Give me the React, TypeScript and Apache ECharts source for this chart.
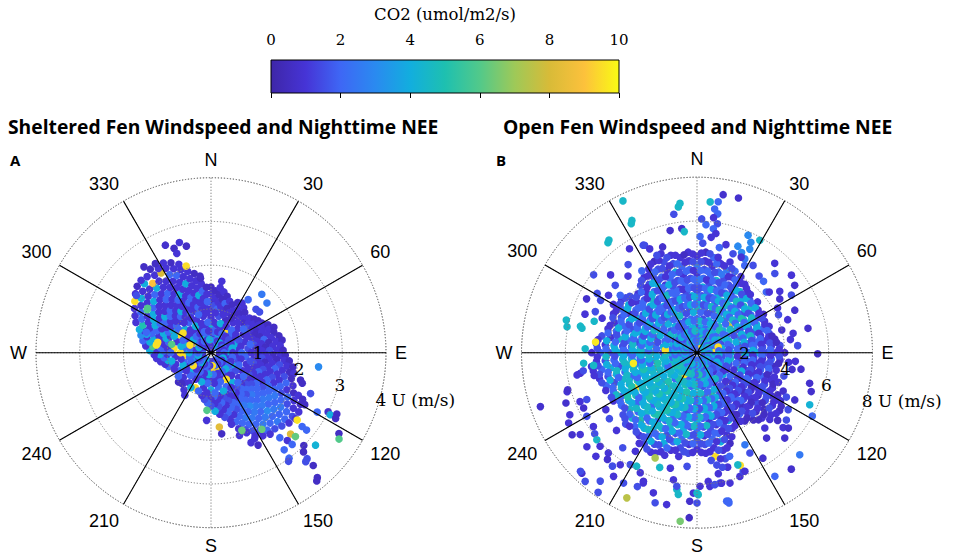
import React, { useEffect, useRef } from "react";
import * as echarts from "echarts";

// ---------- scales / labels ----------
const compassNames: Record<number, string> = { 0: "N", 90: "E", 180: "S", 270: "W" };
const spokeAngles = [30, 60, 90, 120, 150, 210, 240, 270, 300, 330];
const shelteredRings = [1, 2, 3, 4];
const shelteredRingLabels = ["1", "2", "3", "4 U (m/s)"];
const openRings = [2, 4, 6, 8];
const openRingLabels = ["2", "4", "6", "8 U (m/s)"];
const radialLabelDir = 111;
const colorTicks = [0, 10, 2];
const parulaStops = [
  "#3e26a8", "#4634d6", "#3e67f5", "#2a8af0", "#12aede", "#1ec0b0",
  "#52c98a", "#9ec958", "#d8bb38", "#fcc13c", "#f9fb14",
];

// ---------- Sheltered fen: rows [direction, speed, co2, speed, co2, ...] ----------
const shelteredRows = [
  [0, 0.2, 2, 0.4, 1, 0.6, 4, 0.8, 1, 1.0, 1, 1.17, 0.6, 1.34, 1, 1.5, 0.6],
  [4, 1.08, 1.5, 1.25, 1, 1.42, 0.6],
  [8, 1.0, 2, 1.17, 1, 1.34, 0.6, 1.5, 1],
  [12, 0.25, 9.5, 0.45, 2, 0.65, 1, 0.85, 1.5, 1.08, 1, 1.25, 0.6, 1.42, 1],
  [16, 1.0, 1, 1.17, 2, 1.34, 0.6],
  [20, 1.08, 0.6, 1.25, 1],
  [24, 0.2, 1, 0.42, 4, 0.62, 1, 0.82, 0.6, 1.0, 1, 1.2, 0.6],
  [28, 1.08, 1, 1.3, 0.6],
  [32, 1.0, 0.6, 1.17, 1, 1.34, 1],
  [36, 0.25, 2, 0.45, 1, 0.6, 9.5, 0.85, 1, 1.1, 0.6, 1.27, 1],
  [40, 1.0, 1, 1.2, 0.6],
  [44, 1.08, 1],
  [48, 0.2, 4, 0.4, 1, 0.62, 2, 0.82, 1, 1.0, 0.6, 1.18, 1],
  [52, 1.08, 1, 1.25, 0.6],
  [56, 1.0, 1.5, 1.17, 1, 1.3, 0.6],
  [60, 0.25, 1, 0.45, 2, 0.65, 1, 0.85, 0.6, 1.08, 1, 1.25, 1, 1.35, 0.6],
  [64, 1.0, 1, 1.17, 0.6, 1.34, 1, 1.45, 0.6],
  [68, 1.08, 0.6, 1.25, 1, 1.42, 1, 1.55, 0.6],
  [72, 0.2, 2, 0.42, 1, 0.62, 4, 0.82, 1, 1.0, 1, 1.17, 0.6, 1.34, 1, 1.51, 0.6],
  [76, 1.08, 1, 1.25, 2, 1.42, 1, 1.6, 0.6],
  [80, 1.0, 1.5, 1.17, 1, 1.34, 0.6, 1.51, 1, 1.65, 0.6],
  [84, 0.25, 1, 0.45, 2, 0.65, 1, 0.85, 1.5, 1.08, 1, 1.25, 0.6, 1.42, 1, 1.59, 1],
  [88, 1.0, 0.6, 1.17, 1, 1.34, 1.5, 1.51, 1, 1.65, 0.6],
  [92, 1.08, 1, 1.25, 1, 1.42, 0.6, 1.59, 1, 1.7, 0.6],
  [96, 0.2, 1, 0.4, 4, 0.6, 1, 0.8, 2, 1.0, 1, 1.17, 1.5, 1.34, 1, 1.51, 0.6, 1.68, 1, 1.8, 0.6],
  [100, 1.08, 1, 1.25, 0.6, 1.42, 1, 1.59, 1.5, 1.76, 1, 1.9, 0.6],
  [104, 1.0, 1.5, 1.17, 1, 1.34, 1, 1.51, 2, 1.68, 1, 1.85, 0.6, 1.95, 1],
  [108, 0.25, 2, 0.45, 1, 0.65, 1.5, 0.85, 1, 1.08, 1, 1.25, 1.5, 1.42, 1, 1.59, 1, 1.76, 1.5, 1.93, 0.6],
  [112, 1.0, 1, 1.17, 2, 1.34, 1, 1.51, 1.5, 1.68, 1, 1.85, 2, 2.02, 1],
  [116, 1.08, 1, 1.25, 1, 1.42, 2, 1.59, 1, 1.76, 2, 1.93, 1, 2.1, 0.6, 2.22, 1],
  [120, 0.2, 1, 0.42, 2, 0.62, 4, 0.82, 1, 1.0, 1.5, 1.17, 1, 1.34, 1, 1.51, 2, 1.68, 2, 1.85, 1.5, 2.02, 2, 2.19, 1, 2.36, 0.6],
  [124, 1.08, 1, 1.25, 2, 1.42, 1.5, 1.59, 2, 1.76, 2.5, 1.93, 2, 2.1, 1.5, 2.27, 1, 2.42, 1],
  [128, 1.0, 1, 1.17, 1.5, 1.34, 2, 1.51, 2, 1.68, 2.5, 1.85, 2, 2.02, 2.5, 2.19, 2, 2.36, 1.5, 2.45, 1],
  [132, 0.25, 4, 0.45, 1, 0.65, 2, 0.85, 1, 1.08, 1.5, 1.25, 2, 1.42, 2, 1.59, 2.5, 1.76, 2, 1.93, 2.5, 2.1, 2, 2.27, 2, 2.4, 1],
  [136, 1.0, 1, 1.17, 2, 1.34, 2.5, 1.51, 2, 1.68, 2.5, 1.85, 3, 2.02, 2, 2.19, 2.5, 2.33, 1.5],
  [140, 1.08, 2, 1.25, 1.5, 1.42, 2, 1.59, 2.5, 1.76, 2, 1.93, 2.5, 2.1, 2, 2.27, 1.5],
  [144, 0.2, 2, 0.4, 1, 0.62, 1, 0.82, 4, 1.0, 1.5, 1.17, 2, 1.34, 2, 1.51, 3, 1.68, 2.5, 1.85, 2, 2.02, 2.5, 2.19, 2, 2.3, 1],
  [148, 1.08, 1, 1.25, 2, 1.42, 2.5, 1.59, 2, 1.76, 2.5, 1.93, 2, 2.1, 1.5, 2.24, 1],
  [152, 1.0, 2, 1.17, 1, 1.34, 2, 1.51, 2, 1.68, 2.5, 1.85, 2, 2.02, 1.5, 2.15, 1],
  [156, 0.25, 1, 0.45, 9.5, 0.65, 1, 0.85, 2, 1.08, 1, 1.25, 2, 1.42, 1.5, 1.59, 2, 1.76, 2, 1.93, 1.5, 2.0, 1],
  [160, 1.0, 1, 1.17, 1.5, 1.34, 2, 1.51, 1, 1.68, 2, 1.85, 1],
  [164, 1.08, 1.5, 1.25, 1, 1.42, 2, 1.59, 1, 1.7, 1],
  [168, 0.2, 1, 0.4, 8, 0.6, 1, 0.8, 2, 1.0, 1, 1.17, 2, 1.34, 1, 1.51, 1.5],
  [172, 1.08, 1, 1.25, 1.5, 1.42, 1],
  [176, 1.0, 2, 1.17, 1, 1.34, 4],
  [180, 0.25, 2, 0.45, 9.5, 0.65, 1, 0.85, 4, 1.08, 1, 1.22, 1.5],
  [184, 1.0, 1, 1.15, 2],
  [188, 1.08, 1.5],
  [192, 0.2, 1, 0.42, 2, 0.62, 1, 0.82, 1, 1.0, 1],
  [204, 0.25, 1, 0.45, 2, 0.65, 1, 0.88, 9.5],
  [216, 0.2, 4, 0.4, 1, 0.62, 2, 0.85, 1, 1.05, 1],
  [228, 0.25, 1, 0.45, 2, 0.65, 4, 0.85, 1, 1.0, 0.6],
  [240, 0.2, 2, 0.42, 1, 0.62, 1, 0.82, 2],
  [252, 0.25, 1, 0.45, 4, 0.65, 2, 0.85, 1, 1.02, 2],
  [256, 1.08, 1],
  [260, 1.0, 4, 1.17, 1],
  [264, 0.2, 1, 0.4, 2, 0.62, 9.5, 0.82, 1, 1.08, 2, 1.25, 1],
  [268, 1.0, 1, 1.17, 4, 1.3, 1],
  [272, 1.08, 2, 1.25, 1, 1.4, 4],
  [276, 0.25, 4, 0.45, 1, 0.65, 2, 0.85, 9.5, 1.0, 1, 1.17, 2, 1.34, 6, 1.5, 1],
  [280, 1.08, 1, 1.25, 9.5, 1.42, 4, 1.58, 2],
  [284, 1.0, 2, 1.17, 1, 1.34, 4, 1.51, 1, 1.65, 3],
  [288, 0.2, 2, 0.42, 1, 0.62, 4, 0.82, 1, 1.08, 4, 1.25, 1, 1.42, 2, 1.59, 1, 1.72, 4],
  [292, 1.0, 1, 1.17, 4, 1.34, 2, 1.51, 1, 1.68, 5, 1.85, 1],
  [296, 1.08, 2, 1.25, 1, 1.42, 4, 1.59, 1, 1.76, 2, 1.93, 1],
  [300, 0.25, 1, 0.45, 9.5, 0.65, 1, 0.82, 9.5, 1.0, 4, 1.17, 1, 1.34, 2, 1.51, 4, 1.68, 1, 1.85, 2, 2.02, 1],
  [304, 1.08, 1, 1.25, 2, 1.42, 1, 1.59, 4, 1.76, 6, 1.93, 1, 2.1, 9.5],
  [308, 1.0, 2, 1.17, 1, 1.34, 4, 1.51, 1, 1.68, 2, 1.85, 1, 2.02, 4, 2.19, 1],
  [312, 0.2, 1, 0.4, 2, 0.6, 1, 0.8, 4, 1.08, 1, 1.25, 2, 1.42, 1, 1.59, 1, 1.76, 4, 1.93, 1, 2.1, 1, 2.27, 0.6],
  [316, 1.0, 1, 1.17, 1, 1.34, 2, 1.51, 1, 1.68, 1, 1.85, 2, 2.02, 1, 2.19, 4, 2.3, 1],
  [320, 1.08, 2, 1.25, 1, 1.42, 1, 1.59, 2, 1.76, 1, 1.93, 4, 2.07, 9, 2.27, 1],
  [324, 0.25, 2, 0.45, 1, 0.65, 1, 0.85, 2, 1.0, 1, 1.17, 4, 1.34, 1, 1.51, 1, 1.68, 2, 1.85, 1, 2.02, 1, 2.19, 1, 2.36, 0.6],
  [328, 1.08, 1, 1.25, 1, 1.42, 2, 1.59, 1, 1.76, 1, 1.93, 1, 2.15, 8, 2.27, 1, 2.4, 0.6],
  [332, 1.0, 2, 1.17, 1, 1.34, 1, 1.51, 4, 1.68, 1, 1.85, 1, 2.02, 2, 2.19, 1, 2.32, 1],
  [336, 0.2, 1, 0.42, 4, 0.62, 1, 0.82, 1, 1.08, 1, 1.25, 2, 1.42, 1, 1.59, 1, 1.76, 1, 1.93, 2, 2.1, 1, 2.25, 0.6],
  [340, 1.0, 1, 1.17, 1, 1.34, 2, 1.51, 1, 1.68, 4, 1.85, 1, 2.02, 1, 2.15, 1],
  [344, 1.08, 2, 1.25, 1, 1.42, 1, 1.59, 1, 1.76, 1, 1.93, 1, 2.06, 9.5],
  [348, 0.25, 1, 0.45, 2, 0.65, 1, 0.85, 1, 1.0, 1, 1.17, 1, 1.34, 4, 1.51, 1, 1.68, 1, 1.85, 0.6],
  [352, 1.08, 1, 1.25, 1, 1.42, 2, 1.59, 1, 1.72, 0.6],
  [356, 1.0, 1, 1.17, 2, 1.34, 1, 1.5, 0.6],
];

// in-between readings near the sheltered centre
const shelteredInnerFill = [
  [6, 0.3, 1, 0.5, 2, 0.7, 1, 0.92, 1], [18, 0.3, 2, 0.5, 1, 0.7, 4, 0.92, 1],
  [30, 0.3, 1, 0.5, 2, 0.7, 1, 0.92, 0.6], [42, 0.3, 4, 0.5, 1, 0.7, 2, 0.92, 1],
  [54, 0.3, 1, 0.5, 1.5, 0.7, 1, 0.92, 2], [66, 0.3, 2, 0.5, 1, 0.7, 1.5, 0.92, 1],
  [78, 0.3, 1, 0.5, 4, 0.7, 1, 0.92, 2], [90, 0.3, 2, 0.5, 1, 0.7, 2, 0.92, 1],
  [102, 0.3, 1, 0.5, 2, 0.7, 1, 0.92, 1.5], [114, 0.3, 4, 0.5, 1, 0.7, 2, 0.92, 1],
  [126, 0.3, 1, 0.5, 2, 0.7, 1.5, 0.92, 2], [138, 0.3, 2, 0.5, 4, 0.7, 1, 0.92, 2],
  [150, 0.3, 1, 0.5, 2, 0.7, 9.5, 0.92, 1], [162, 0.3, 2, 0.5, 1, 0.7, 2, 0.92, 4],
  [174, 0.3, 9.5, 0.5, 2, 0.7, 1, 0.92, 2], [186, 0.3, 1, 0.5, 4, 0.7, 2, 0.92, 1],
  [198, 0.3, 2, 0.5, 1, 0.7, 4, 0.92, 2], [210, 0.3, 1, 0.5, 2, 0.7, 1, 0.92, 4],
  [222, 0.3, 4, 0.5, 1, 0.7, 2, 0.92, 1], [234, 0.3, 2, 0.5, 9.5, 0.7, 1, 0.92, 2],
  [246, 0.3, 1, 0.5, 2, 0.7, 4, 0.92, 1], [258, 0.3, 4, 0.5, 2, 0.7, 1, 0.92, 4],
  [270, 0.3, 2, 0.5, 4, 0.7, 9.5, 0.92, 2], [282, 0.3, 1, 0.5, 2, 0.7, 4, 0.92, 6],
  [294, 0.3, 4, 0.5, 1, 0.7, 2, 0.92, 4], [306, 0.3, 2, 0.5, 4, 0.7, 1, 0.92, 2],
  [318, 0.3, 1, 0.5, 2, 0.7, 1, 0.92, 1], [330, 0.3, 2, 0.5, 1, 0.7, 4, 0.92, 1],
  [342, 0.3, 1, 0.5, 2, 0.7, 1, 0.92, 2], [354, 0.3, 4, 0.5, 1, 0.7, 2, 0.92, 1],
];

// scattered points [speed, direction, co2]
const shelteredScatter = [
  [0.05, 0, 1],
  [2.49, 322, 0.6], [2.67, 337, 0.8], [2.53, 340.5, 0.6], [2.4, 341, 1], [2.5, 347, 0.6], [2.62, 344, 1],
  [1.77, 351.8, 0.6], [1.65, 8.6, 1], [1.48, 35, 2], [1.77, 41, 2.5], [1.71, 48.4, 2.5], [1.43, 46, 1.5],
  [1.45, 50, 1.5], [1.29, 60.5, 1],
  [2.48, 97.5, 3], [2.14, 107, 0.6], [2.2, 108.5, 0.6], [2.46, 112.3, 1.5], [2.35, 117, 0.6], [2.45, 119, 0.6],
  [2.78, 119.2, 2], [3.0, 116.8, 0.8], [3.07, 117.5, 4], [3.2, 116, 0.6], [3.22, 117.8, 0.6], [3.46, 122.3, 0.6],
  [3.53, 124, 6], [2.5, 128, 9.6], [2.6, 135.6, 8.2], [2.72, 134.8, 6.2], [2.68, 129, 2], [2.81, 129, 2],
  [2.66, 139, 1], [2.5, 141, 2], [3.19, 131.5, 4.2], [3.0, 135, 0.6], [3.1, 137, 0.6], [3.27, 137.8, 1.5],
  [3.3, 139, 1.5], [3.48, 137.8, 0.6], [3.75, 139.6, 0.6], [3.8, 140.5, 0.6], [2.8, 138.5, 2], [2.78, 143, 2],
  [3.0, 143.5, 2], [3.05, 144.5, 1.5], [2.37, 153, 0.6], [2.2, 153, 1], [2.25, 156, 1], [2.0, 161, 1],
  [1.91, 158.3, 6.3], [2.1, 146.4, 6.3], [1.71, 173.6, 8.3], [1.87, 172.5, 0.6], [1.32, 184, 6], [1.55, 183.7, 1],
  [0.97, 224, 0.6], [1.14, 211.7, 1], [1.26, 278, 9.6], [1.53, 286, 3.5], [1.55, 287.5, 2], [1.77, 305, 6],
  [2.15, 307.5, 1.5], [0.78, 305, 9.5], [0.51, 290, 9.5], [1.24, 281, 9.5],
];

// ---------- Open fen: rows [direction, speed, co2, ...] ----------
const openRows = [
  [0, 0.35, 2, 0.75, 4, 1.15, 1.5, 1.55, 2, 1.95, 4.5, 2.4, 2, 2.8, 1.5, 3.2, 2, 3.6, 1, 4.0, 2.5, 4.4, 1],
  [5, 2.6, 1.5, 3.0, 4, 3.4, 2, 3.8, 1.5, 4.2, 1, 4.6, 0.6],
  [10, 0.75, 2, 1.15, 4, 1.55, 1.5, 1.95, 2, 2.4, 4, 2.8, 2, 3.2, 1.5, 3.6, 2, 4.0, 1, 4.4, 2],
  [15, 2.6, 2, 3.0, 1.5, 3.4, 4.5, 3.8, 2, 4.2, 1],
  [20, 0.35, 2, 0.75, 5, 1.15, 2, 1.55, 4, 1.95, 1.5, 2.4, 1.5, 2.8, 4, 3.2, 2, 3.6, 1.5, 4.0, 2.5, 4.4, 1],
  [25, 2.6, 4.5, 3.0, 2, 3.4, 1.5, 3.8, 1, 4.1, 2],
  [30, 0.75, 2, 1.15, 4.5, 1.55, 2, 1.95, 4, 2.4, 2, 2.8, 4, 3.2, 1.5, 3.6, 2, 4.0, 1],
  [35, 2.6, 4, 3.0, 2, 3.4, 4.5, 3.8, 1],
  [40, 0.35, 9.5, 0.75, 2, 1.15, 4, 1.55, 5, 1.95, 2, 2.4, 4.5, 2.8, 2, 3.2, 4, 3.6, 1],
  [45, 2.6, 2, 3.0, 5, 3.4, 1.5],
  [50, 0.75, 4.5, 1.15, 2, 1.55, 4, 1.95, 9.5, 2.4, 4, 2.8, 1.5, 3.2, 4.5, 3.6, 1],
  [55, 2.6, 4.5, 3.0, 2, 3.4, 1],
  [60, 0.35, 4, 0.75, 2, 1.15, 5, 1.55, 2, 1.95, 4, 2.4, 2, 2.8, 4, 3.2, 1.5, 3.5, 0.6],
  [65, 2.6, 1.5, 3.0, 4, 3.4, 1],
  [70, 0.75, 4, 1.15, 1.5, 1.55, 4.5, 1.95, 2, 2.4, 4, 2.8, 1.5, 3.2, 2, 3.5, 1],
  [75, 2.6, 2, 3.0, 1, 3.4, 1.5],
  [80, 0.35, 4.5, 0.75, 2, 1.15, 4, 1.55, 2, 1.95, 1.5, 2.4, 1.5, 2.8, 2, 3.2, 1, 3.6, 0.6],
  [85, 2.6, 2, 3.0, 1.5, 3.4, 1, 3.8, 1.5],
  [90, 0.75, 9.5, 1.15, 2, 1.55, 4, 1.95, 2, 2.4, 1, 2.8, 4, 3.2, 1.5, 3.6, 1, 4.0, 0.6],
  [95, 2.6, 1.5, 3.0, 1, 3.4, 2, 3.8, 1],
  [100, 0.35, 4, 0.75, 2, 1.15, 1.5, 1.55, 4.5, 1.95, 1, 2.4, 2, 2.8, 1, 3.2, 1.5, 3.6, 0.6],
  [105, 2.6, 1, 3.0, 2, 3.4, 1],
  [110, 0.75, 4, 1.15, 2, 1.55, 1.5, 1.95, 4, 2.4, 1.5, 2.8, 1, 3.2, 2, 3.6, 1],
  [115, 2.6, 2, 3.0, 1, 3.4, 1.5, 3.8, 1],
  [120, 0.35, 1.5, 0.75, 2, 1.15, 4, 1.55, 1, 1.95, 2, 2.4, 1, 2.8, 1.5, 3.2, 1, 3.6, 2, 4.0, 1, 4.4, 0.6],
  [125, 2.6, 1.5, 3.0, 1, 3.4, 0.6, 3.8, 1.5, 4.2, 1, 4.6, 0.6],
  [130, 0.75, 1.5, 1.15, 2, 1.55, 4, 1.95, 1, 2.4, 1.5, 2.8, 0.6, 3.2, 1, 3.6, 1.5, 4.0, 0.6, 4.4, 1, 4.8, 0.6],
  [135, 2.6, 1, 3.0, 1.5, 3.4, 1, 3.8, 0.6, 4.2, 1],
  [140, 0.35, 4, 0.75, 2, 1.15, 1, 1.55, 2, 1.95, 1.5, 2.4, 1, 2.8, 2, 3.2, 0.6, 3.6, 1, 4.0, 0.6],
  [145, 2.6, 1.5, 3.0, 1, 3.4, 2, 3.8, 0.6],
  [150, 0.75, 4.5, 1.15, 2, 1.55, 1, 1.95, 2, 2.4, 1, 2.8, 1.5, 3.2, 1, 3.6, 0.6],
  [155, 2.6, 2, 3.0, 1, 3.4, 4, 3.8, 1],
  [160, 0.35, 2, 0.75, 1.5, 1.15, 4, 1.55, 2, 1.95, 5, 2.4, 4.5, 2.8, 2, 3.2, 1, 3.6, 1.5, 4.0, 1, 4.4, 0.6],
  [165, 2.6, 2, 3.0, 1.5, 3.4, 1, 3.8, 2, 4.2, 4, 4.6, 1, 5.0, 1.5, 5.4, 1],
  [170, 0.75, 2, 1.15, 4.5, 1.55, 1.5, 1.95, 2, 2.4, 2, 2.8, 4, 3.2, 1, 3.6, 1.5, 4.0, 2, 4.4, 1, 4.8, 9.5, 5.2, 1.5, 5.6, 1],
  [175, 2.6, 4.5, 3.0, 2, 3.4, 1.5, 3.8, 1, 4.2, 1.5, 4.6, 1],
  [180, 0.35, 2, 0.75, 4, 1.15, 2, 1.55, 4.5, 1.95, 1.5, 2.4, 1.5, 2.8, 2, 3.2, 4, 3.6, 2, 4.0, 1.5, 4.4, 1],
  [185, 2.6, 2, 3.0, 4.5, 3.4, 1.5, 3.8, 2, 4.2, 1, 4.6, 1.5],
  [190, 0.75, 2, 1.15, 4, 1.55, 2, 1.95, 4.5, 2.4, 4, 2.8, 1.5, 3.2, 2, 3.6, 4, 4.0, 2, 4.4, 1.5, 4.8, 1],
  [195, 2.6, 4, 3.0, 2, 3.4, 4.5, 3.8, 1.5, 4.2, 2, 4.6, 1],
  [200, 0.35, 2, 0.75, 4.5, 1.15, 2, 1.55, 5, 1.95, 4, 2.4, 4.5, 2.8, 4, 3.2, 2, 3.6, 4.5, 4.0, 1.5, 4.4, 4, 4.8, 1],
  [205, 2.6, 5, 3.0, 4, 3.4, 2, 3.8, 4.5, 4.2, 2, 4.6, 1.5, 5.0, 1],
  [210, 0.75, 2, 1.15, 9.5, 1.55, 4, 1.95, 4.5, 2.4, 4, 2.8, 5, 3.2, 4.5, 3.6, 2, 4.0, 4, 4.4, 2, 4.8, 1.5],
  [215, 2.6, 4.5, 3.0, 4, 3.4, 5, 3.8, 2, 4.2, 4, 4.6, 1],
  [220, 0.35, 2, 0.75, 4, 1.15, 4.5, 1.55, 2, 1.95, 5, 2.4, 4.5, 2.8, 4, 3.2, 2, 3.6, 4.5, 4.0, 5, 4.4, 2],
  [225, 2.6, 4, 3.0, 4.5, 3.4, 4, 3.8, 2, 4.2, 4.5, 4.6, 1.5],
  [230, 0.75, 2, 1.15, 4, 1.55, 4.5, 1.95, 4, 2.4, 5, 2.8, 4.5, 3.2, 4, 3.6, 2, 4.0, 4.5, 4.4, 1.5],
  [235, 2.6, 4.5, 3.0, 4, 3.4, 5, 3.8, 4, 4.2, 2],
  [240, 0.35, 2, 0.75, 4.5, 1.15, 5, 1.55, 4, 1.95, 4.5, 2.4, 4, 2.8, 4.5, 3.2, 9.5, 3.6, 4, 4.0, 2, 4.4, 1],
  [245, 2.6, 4, 3.0, 5, 3.4, 4, 3.8, 4.5, 4.2, 2],
  [250, 0.75, 2, 1.15, 4.5, 1.55, 4, 1.95, 5, 2.4, 4.5, 2.8, 4, 3.2, 2, 3.6, 4.5, 4.0, 1.5, 4.4, 2],
  [255, 2.6, 4, 3.0, 4.5, 3.4, 2, 3.8, 4, 4.2, 1.5, 4.6, 1],
  [260, 0.35, 2, 0.75, 4, 1.15, 2, 1.55, 4.5, 1.95, 4, 2.4, 4, 2.8, 2, 3.2, 4.5, 3.6, 1.5, 4.0, 4, 4.4, 2, 4.8, 1],
  [265, 2.6, 2, 3.0, 4, 3.4, 4.5, 3.8, 2, 4.2, 1.5, 4.6, 1],
  [270, 0.75, 2, 1.15, 4, 1.55, 1.5, 1.95, 4.5, 2.4, 2, 2.8, 4, 3.2, 2, 3.6, 4, 4.0, 1.5, 4.4, 2, 4.8, 1],
  [275, 2.6, 4, 3.0, 2, 3.4, 1.5, 3.8, 4, 4.2, 1, 4.6, 1.5],
  [280, 0.35, 2, 0.75, 4.5, 1.15, 2, 1.55, 4, 1.95, 2, 2.4, 4, 2.8, 1.5, 3.2, 2, 3.6, 4.5, 4.0, 1, 4.4, 1.5],
  [285, 2.6, 2, 3.0, 4, 3.4, 1.5, 3.8, 2, 4.2, 1],
  [290, 0.75, 2, 1.15, 4, 1.55, 2, 1.95, 1.5, 2.4, 2, 2.8, 4, 3.2, 1.5, 3.6, 2, 4.0, 1],
  [295, 2.6, 4, 3.0, 2, 3.4, 4, 3.8, 1.5, 4.2, 1],
  [300, 0.35, 2, 0.75, 4, 1.15, 1.5, 1.55, 2, 1.95, 4, 2.4, 1.5, 2.8, 2, 3.2, 4, 3.6, 1, 4.0, 2, 4.4, 1],
  [305, 2.6, 2, 3.0, 1.5, 3.4, 2, 3.8, 4, 4.2, 1],
  [310, 0.75, 2, 1.15, 4.5, 1.55, 1.5, 1.95, 2, 2.4, 4, 2.8, 1.5, 3.2, 2, 3.6, 1, 4.0, 1.5],
  [315, 2.6, 2, 3.0, 4, 3.4, 1.5, 3.8, 1],
  [320, 0.35, 2, 0.75, 1.5, 1.15, 2, 1.55, 4, 1.95, 2, 2.4, 1.5, 2.8, 2, 3.2, 4.5, 3.6, 1, 4.0, 1.5],
  [325, 2.6, 4, 3.0, 1.5, 3.4, 2, 3.8, 1.5, 4.2, 1],
  [330, 0.75, 2, 1.15, 1.5, 1.55, 2, 1.95, 4, 2.4, 2, 2.8, 1.5, 3.2, 2, 3.6, 4, 4.0, 1.5, 4.4, 1],
  [335, 2.6, 1.5, 3.0, 2, 3.4, 1, 3.8, 2, 4.2, 1.5, 4.6, 0.6],
  [340, 0.35, 2, 0.75, 4, 1.15, 2, 1.55, 1.5, 1.95, 2, 2.4, 4, 2.8, 2, 3.2, 1.5, 3.6, 2, 4.0, 1, 4.4, 1.5, 4.8, 1],
  [345, 2.6, 2, 3.0, 1, 3.4, 1.5, 3.8, 4, 4.2, 1.5, 4.6, 1],
  [350, 0.75, 2, 1.15, 4, 1.55, 2, 1.95, 1.5, 2.4, 2, 2.8, 1.5, 3.2, 2, 3.6, 1, 4.0, 2, 4.4, 1],
  [355, 2.6, 4, 3.0, 2, 3.4, 1.5, 3.8, 2, 4.2, 1, 4.6, 1],
];

// in-between readings of the open fen core (same layout)
const openInnerFill = [
  [5, 0.55, 4, 1.0, 2, 1.45, 4.5, 1.85, 2], [15, 0.55, 2, 1.0, 4, 1.45, 2, 1.85, 1.5],
  [25, 0.55, 5, 1.0, 2, 1.45, 4, 1.85, 2], [35, 0.55, 2, 1.0, 4.5, 1.45, 2, 1.85, 4],
  [45, 0.55, 4, 1.0, 2, 1.45, 5, 1.85, 2], [55, 0.55, 2, 1.0, 4, 1.45, 2, 1.85, 4.5],
  [65, 0.55, 4.5, 1.0, 2, 1.45, 4, 1.85, 1.5], [75, 0.55, 2, 1.0, 9.5, 1.45, 2, 1.85, 4],
  [85, 0.55, 4, 1.0, 2, 1.45, 1.5, 1.85, 2], [95, 0.55, 2, 1.0, 4, 1.45, 2, 1.85, 1],
  [105, 0.55, 4.5, 1.0, 1.5, 1.45, 4, 1.85, 2], [115, 0.55, 2, 1.0, 4, 1.45, 1.5, 1.85, 1],
  [125, 0.55, 4, 1.0, 2, 1.45, 1, 1.85, 2], [135, 0.55, 2, 1.0, 1.5, 1.45, 2, 1.85, 1],
  [145, 0.55, 4, 1.0, 2, 1.45, 4.5, 1.85, 1.5], [155, 0.55, 2, 1.0, 4, 1.45, 2, 1.85, 4],
  [165, 0.55, 4.5, 1.0, 2, 1.45, 4, 1.85, 2], [175, 0.55, 2, 1.0, 5, 1.45, 2, 1.85, 4.5],
  [185, 0.55, 4, 1.0, 2, 1.45, 4.5, 1.85, 4], [195, 0.55, 2, 1.0, 4.5, 1.45, 4, 1.85, 5],
  [205, 0.55, 4, 1.0, 5, 1.45, 4.5, 1.85, 4], [215, 0.55, 4.5, 1.0, 4, 1.45, 5, 1.85, 4.5],
  [225, 0.55, 2, 1.0, 4.5, 1.45, 4, 1.85, 5], [235, 0.55, 4, 1.0, 5, 1.45, 4.5, 1.85, 4],
  [245, 0.55, 4.5, 1.0, 4, 1.45, 2, 1.85, 4.5], [255, 0.55, 2, 1.0, 4.5, 1.45, 4, 1.85, 5],
  [265, 0.55, 4, 1.0, 2, 1.45, 4.5, 1.85, 4], [275, 0.55, 2, 1.0, 4, 1.45, 9.5, 1.85, 2],
  [285, 0.55, 4.5, 1.0, 2, 1.45, 4, 1.85, 1.5], [295, 0.55, 2, 1.0, 4, 1.45, 2, 1.85, 4],
  [305, 0.55, 4, 1.0, 1.5, 1.45, 4.5, 1.85, 2], [315, 0.55, 2, 1.0, 4, 1.45, 2, 1.85, 4],
  [325, 0.55, 4.5, 1.0, 2, 1.45, 1.5, 1.85, 2], [335, 0.55, 2, 1.0, 4, 1.45, 2, 1.85, 4.5],
  [345, 0.55, 4, 1.0, 2, 1.45, 4, 1.85, 1.5], [355, 0.55, 2, 1.0, 4.5, 1.45, 2, 1.85, 4],
];

const openOuterFill = [
  [2.5, 2.2, 4, 2.55, 2, 2.95, 1.5, 3.35, 2.5, 3.75, 2, 4.15, 1.5, 4.55, 1],
  [7.5, 2.2, 1.5, 2.55, 4, 2.95, 2, 3.35, 1, 3.75, 2, 4.15, 1, 4.55, 1.5],
  [12.5, 2.2, 2, 2.55, 1.5, 2.95, 4, 3.35, 2, 3.75, 1.5, 4.15, 2, 4.45, 1],
  [17.5, 2.2, 4.5, 2.55, 2, 2.95, 2, 3.35, 1.5, 3.75, 2.5, 4.15, 1],
  [22.5, 2.2, 2, 2.55, 4, 2.95, 1.5, 3.35, 2, 3.75, 1, 4.15, 1.5],
  [27.5, 2.2, 5, 2.55, 2, 2.95, 4, 3.35, 1.5, 3.75, 2],
  [32.5, 2.2, 2, 2.55, 4.5, 2.95, 2, 3.35, 4, 3.75, 1],
  [37.5, 2.2, 4, 2.55, 2, 2.95, 4.5, 3.35, 1.5, 3.7, 1],
  [42.5, 2.2, 2, 2.55, 4, 2.95, 1.5, 3.35, 4, 3.6, 1],
  [47.5, 2.2, 4.5, 2.55, 2, 2.95, 4, 3.35, 2],
  [52.5, 2.2, 2, 2.55, 5, 2.95, 1.5, 3.35, 4],
  [57.5, 2.2, 4, 2.55, 2, 2.95, 4.5, 3.35, 1],
  [62.5, 2.2, 1.5, 2.55, 4, 2.95, 2, 3.35, 1.5],
  [67.5, 2.2, 4, 2.55, 1.5, 2.95, 4, 3.35, 1],
  [72.5, 2.2, 2, 2.55, 4.5, 2.95, 1, 3.35, 2],
  [77.5, 2.2, 4, 2.55, 1.5, 2.95, 2, 3.35, 1, 3.5, 0.6],
  [82.5, 2.2, 1.5, 2.55, 2, 2.95, 1, 3.35, 1.5, 3.65, 0.6],
  [87.5, 2.2, 2, 2.55, 4, 2.95, 1.5, 3.35, 2, 3.75, 1],
  [92.5, 2.2, 4, 2.55, 1, 2.95, 2, 3.35, 1, 3.75, 1.5],
  [97.5, 2.2, 1.5, 2.55, 2, 2.95, 1, 3.35, 1.5, 3.75, 0.6],
  [102.5, 2.2, 2, 2.55, 1, 2.95, 1.5, 3.35, 2, 3.7, 1],
  [107.5, 2.2, 1, 2.55, 1.5, 2.95, 1, 3.35, 0.6, 3.7, 1],
  [112.5, 2.2, 4, 2.55, 1, 2.95, 2, 3.35, 1, 3.75, 0.6],
  [117.5, 2.2, 1.5, 2.55, 2, 2.95, 1, 3.35, 1.5, 3.75, 1, 4.15, 0.6],
  [122.5, 2.2, 1, 2.55, 1.5, 2.95, 0.6, 3.35, 1, 3.75, 1.5, 4.15, 1, 4.55, 0.6],
  [127.5, 2.2, 2, 2.55, 1, 2.95, 1.5, 3.35, 1, 3.75, 0.6, 4.15, 1.5, 4.55, 1],
  [132.5, 2.2, 1, 2.55, 1.5, 2.95, 1, 3.35, 0.6, 3.75, 1, 4.15, 0.6, 4.5, 1],
  [137.5, 2.2, 1.5, 2.55, 1, 2.95, 2, 3.35, 1, 3.75, 1.5, 4.15, 0.6],
  [142.5, 2.2, 1, 2.55, 2, 2.95, 1, 3.35, 1.5, 3.75, 0.6],
  [147.5, 2.2, 2, 2.55, 1, 2.95, 1.5, 3.35, 0.6, 3.7, 1],
  [152.5, 2.2, 1.5, 2.55, 2, 2.95, 1, 3.35, 1.5, 3.75, 1],
  [157.5, 2.2, 4, 2.55, 1.5, 2.95, 2, 3.35, 1, 3.75, 1.5, 4.15, 1],
  [162.5, 2.2, 2, 2.55, 4, 2.95, 1.5, 3.35, 2, 3.75, 1, 4.15, 1.5, 4.55, 1, 4.95, 2],
  [167.5, 2.2, 4.5, 2.55, 2, 2.95, 4, 3.35, 1.5, 3.75, 2, 4.15, 1, 4.55, 1.5, 4.95, 1, 5.35, 1.5],
  [172.5, 2.2, 2, 2.55, 4, 2.95, 2, 3.35, 4.5, 3.75, 1.5, 4.15, 2, 4.55, 1, 4.95, 1.5],
  [177.5, 2.2, 4, 2.55, 1.5, 2.95, 4.5, 3.35, 2, 3.75, 4, 4.15, 1.5, 4.55, 1],
  [182.5, 2.2, 2, 2.55, 4, 2.95, 2, 3.35, 4.5, 3.75, 1.5, 4.15, 2, 4.55, 1],
  [187.5, 2.2, 4.5, 2.55, 2, 2.95, 4, 3.35, 2, 3.75, 4.5, 4.15, 1.5, 4.55, 1.5],
  [192.5, 2.2, 4, 2.55, 4.5, 2.95, 2, 3.35, 4, 3.75, 2, 4.15, 4, 4.55, 1],
  [197.5, 2.2, 5, 2.55, 4, 2.95, 4.5, 3.35, 2, 3.75, 4, 4.15, 1.5, 4.55, 2, 4.9, 1],
  [202.5, 2.2, 4, 2.55, 5, 2.95, 4, 3.35, 4.5, 3.75, 2, 4.15, 4, 4.55, 1.5, 4.95, 1],
  [207.5, 2.2, 4.5, 2.55, 4, 2.95, 5, 3.35, 4, 3.75, 4.5, 4.15, 2, 4.55, 4, 4.95, 1.5],
  [212.5, 2.2, 4, 2.55, 4.5, 2.95, 4, 3.35, 5, 3.75, 4, 4.15, 4.5, 4.55, 1.5, 4.9, 1],
  [217.5, 2.2, 5, 2.55, 4, 2.95, 4.5, 3.35, 4, 3.75, 2, 4.15, 4, 4.55, 1.5],
  [222.5, 2.2, 4, 2.55, 5, 2.95, 4, 3.35, 4.5, 3.75, 4, 4.15, 2, 4.55, 1],
  [227.5, 2.2, 4.5, 2.55, 4, 2.95, 5, 3.35, 4, 3.75, 4.5, 4.15, 2, 4.45, 1.5],
  [232.5, 2.2, 4, 2.55, 4.5, 2.95, 4, 3.35, 2, 3.75, 4, 4.15, 1.5],
  [237.5, 2.2, 5, 2.55, 4, 2.95, 4.5, 3.35, 4, 3.75, 5, 4.15, 2],
  [242.5, 2.2, 4, 2.55, 4.5, 2.95, 4, 3.35, 5, 3.75, 4, 4.15, 4.5, 4.4, 1.5],
  [247.5, 2.2, 4.5, 2.55, 4, 2.95, 2, 3.35, 4.5, 3.75, 4, 4.15, 2, 4.5, 1],
  [252.5, 2.2, 4, 2.55, 5, 2.95, 4, 3.35, 4.5, 3.75, 2, 4.15, 4, 4.55, 1.5],
  [257.5, 2.2, 2, 2.55, 4, 2.95, 4.5, 3.35, 4, 3.75, 4.5, 4.15, 2, 4.55, 1.5, 4.8, 1],
  [262.5, 2.2, 4, 2.55, 2, 2.95, 4, 3.35, 4.5, 3.75, 2, 4.15, 4, 4.55, 1.5, 4.85, 1],
  [267.5, 2.2, 4.5, 2.55, 4, 2.95, 2, 3.35, 4, 3.75, 1.5, 4.15, 4.5, 4.55, 1],
  [272.5, 2.2, 2, 2.55, 4.5, 2.95, 4, 3.35, 2, 3.75, 4, 4.15, 2, 4.55, 1.5],
  [277.5, 2.2, 4, 2.55, 2, 2.95, 4.5, 3.35, 1.5, 3.75, 2, 4.15, 4, 4.55, 1],
  [282.5, 2.2, 2, 2.55, 4, 2.95, 2, 3.35, 4, 3.75, 1.5, 4.15, 2],
  [287.5, 2.2, 4, 2.55, 1.5, 2.95, 4, 3.35, 2, 3.75, 4, 4.15, 1],
  [292.5, 2.2, 2, 2.55, 4, 2.95, 2, 3.35, 1.5, 3.75, 2, 4.15, 1.5],
  [297.5, 2.2, 4.5, 2.55, 2, 2.95, 1.5, 3.35, 4, 3.75, 2, 4.15, 1],
  [302.5, 2.2, 2, 2.55, 4, 2.95, 2, 3.35, 1.5, 3.75, 4, 4.15, 1.5],
  [307.5, 2.2, 4, 2.55, 1.5, 2.95, 4, 3.35, 2, 3.75, 1, 4.1, 1.5],
  [312.5, 2.2, 2, 2.55, 4, 2.95, 1.5, 3.35, 2, 3.75, 1.5],
  [317.5, 2.2, 1.5, 2.55, 2, 2.95, 4, 3.35, 1, 3.75, 2],
  [322.5, 2.2, 4, 2.55, 2, 2.95, 1.5, 3.35, 4, 3.75, 1, 4.15, 1.5],
  [327.5, 2.2, 2, 2.55, 1.5, 2.95, 2, 3.35, 1.5, 3.75, 4, 4.15, 1],
  [332.5, 2.2, 4, 2.55, 2, 2.95, 4.5, 3.35, 2, 3.75, 1.5, 4.15, 2, 4.55, 1],
  [337.5, 2.2, 2, 2.55, 1.5, 2.95, 2, 3.35, 4, 3.75, 1, 4.15, 1.5, 4.55, 1],
  [342.5, 2.2, 1.5, 2.55, 4, 2.95, 2, 3.35, 1.5, 3.75, 2, 4.15, 1, 4.55, 1.5],
  [347.5, 2.2, 2, 2.55, 2, 2.95, 1, 3.35, 2, 3.75, 1.5, 4.15, 2, 4.55, 1],
  [352.5, 2.2, 4, 2.55, 1.5, 2.95, 2, 3.35, 1.5, 3.75, 2, 4.15, 1, 4.5, 0.6],
  [357.5, 2.2, 2, 2.55, 4, 2.95, 1.5, 3.35, 2, 3.75, 1, 4.15, 1.5, 4.5, 1],
];

const openScatter = [
  [0.05, 0, 2],
  [7.7, 334, 4.5], [6.7, 352.7, 4.5], [6.85, 353.5, 4.5], [6.72, 333.8, 4.5], [6.6, 333, 4.5], [6.52, 322, 4.5],
  [6.45, 321, 4.5], [5.9, 307, 1.5], [6.14, 284, 4.5], [5.36, 282, 4.5], [5.6, 296, 0.8], [5.29, 300.7, 1.5],
  [5.7, 347.6, 0.8], [5.7, 353, 0.8], [5.48, 333.4, 1.5],
  [7.3, 9.4, 0.8], [7.3, 15, 0.8], [6.9, 5, 4.5], [6.95, 8, 2], [6.6, 7, 2], [6.4, 8.5, 2], [6.2, 7, 1],
  [5.95, 9, 1.5], [5.7, 7.5, 2], [5.5, 9, 1], [5.3, 1.5, 2], [5.3, 7, 1], [5.84, 23.5, 3], [5.87, 29.2, 4.5],
  [5.6, 26, 3], [5.4, 41, 1], [5.57, 50.6, 1], [5.41, 55.4, 0.8], [5.18, 77.6, 0.8], [4.47, 78.6, 1], [5.5, 90.5, 0.6],
  [5.06, 44.5, 1.5], [4.7, 53.4, 1], [5.04, 58.6, 1.5], [4.86, 66.5, 0.8], [4.2, 61, 1], [4.2, 48.8, 2],
  [6.1, 2, 1.5], [5.85, 4, 2], [5.0, 3, 1.5], [4.9, 12, 2], [5.1, 15, 1], [4.8, 20, 1.5], [5.2, 21, 3],
  [5.0, 24, 3], [4.8, 27, 2.5], [5.3, 27, 3],
  [6.4, 350.5, 1.5], [5.55, 354, 4.5], [5.07, 342, 0.8], [5.45, 334, 1.5], [5.2, 335.5, 1], [4.8, 337.6, 1.5],
  [5.65, 327, 1], [4.83, 309.5, 1.5], [4.37, 306.8, 2], [4.81, 303, 1], [5.0, 298.5, 1.5], [5.1, 272, 4.5],
  [4.65, 276, 9.7],
  [7.55, 251, 0.8], [6.18, 253.3, 1], [6.4, 249, 0.8], [6.45, 244, 1], [7.6, 223.7, 0.8], [7.77, 221, 1.5],
  [7.8, 215.3, 1.5], [7.35, 205.8, 7.5], [5.16, 201.7, 7.2], [7.1, 195.6, 1.5], [7.72, 185.7, 6.5],
  [7.53, 182.7, 0.6], [6.47, 179.5, 4.5], [6.9, 168.7, 2], [5.4, 260, 0.8], [6.13, 254, 0.8], [5.19, 264.7, 4.5],
  [5.45, 282.8, 4.5], [2.94, 260.5, 9.7],
  [5.75, 244, 0.8], [5.8, 240, 1.5], [5.8, 234.5, 1], [5.95, 231.6, 1.5], [6.05, 229, 4.5], [6.14, 226, 1],
  [6.1, 221.5, 1], [6.35, 220, 0.8], [6.45, 216.7, 1.5], [7.33, 217, 1.5], [6.19, 214.4, 1], [5.94, 210.8, 1.5],
  [5.86, 208, 4.5], [6.05, 205.3, 1], [6.35, 202.6, 0.8], [6.68, 204, 1.5], [6.3, 188.4, 4.5], [6.52, 187.5, 4.5],
  [6.4, 181.5, 1], [6.85, 180, 1.5],
  [5.56, 259.5, 1], [5.25, 261, 1.5], [4.75, 263, 4.5], [6.04, 281.3, 4.5], [5.78, 247.3, 1], [5.46, 247, 1.5],
  [6.67, 241.3, 1], [6.81, 236.7, 0.8], [6.5, 235, 1], [6.6, 229.5, 1], [6.6, 224.3, 1], [7.58, 224.5, 1.5],
  [6.8, 214, 1], [6.82, 209.4, 1.5], [6.42, 202.4, 1], [6.69, 197.3, 1], [5.89, 190.5, 1], [6.16, 188.6, 1.5],
  [7.06, 191.3, 1], [6.78, 182.8, 0.8], [6.09, 178.7, 1], [6.12, 174.5, 1], [6.03, 170, 1.5], [7.0, 168, 2],
  [5.97, 160.9, 1], [5.8, 158.7, 1.5], [5.67, 148, 0.8], [5.17, 152.2, 1.5], [6.66, 147.8, 2], [6.83, 141, 0.8],
  [6.6, 134.8, 2.5], [5.5, 159, 9.5], [5.2, 131, 1], [5.1, 127, 1.5], [5.4, 129.5, 0.8], [5.66, 114.8, 4.2],
  [6.0, 118.8, 2], [5.5, 108.8, 0.8], [5.32, 105.2, 0.8], [4.3, 114, 0.8], [4.55, 116.4, 1.5], [4.95, 115.8, 0.8],
  [5.58, 134.2, 0.8], [4.62, 138, 1], [5.02, 140.8, 0.8], [4.73, 152.5, 2.5], [5.83, 158, 1], [6.92, 168, 2],
  [6.4, 180, 4.5], [5.89, 175, 1], [6.07, 172.3, 1.5], [6.05, 169.3, 1], [6.13, 165.8, 1], [5.44, 160, 4.5],
  [4.5, 39, 1.5], [4.45, 43, 2], [4.73, 32.7, 1.5], [4.53, 28.7, 2], [4.8, 24.8, 1],
  [4.3, 50, 1], [4.5, 57, 0.8], [4.1, 65, 1.5], [4.4, 70, 1], [4.0, 75, 0.8], [4.3, 82, 1], [4.6, 86, 1.5],
  [4.2, 96, 1], [4.4, 100, 0.8], [4.1, 105, 1.5], [3.95, 110, 1], [4.5, 95, 1], [4.8, 99, 0.8], [4.3, 120, 1],
  [4.9, 122, 1.5], [4.6, 290, 1], [5.0, 292, 1.5], [4.7, 318, 1], [5.1, 322, 1.5], [4.5, 326, 2], [5.3, 312, 1],
  [4.9, 287, 4.5], [5.4, 289, 1], [5.2, 185, 1.5], [5.4, 193, 1], [5.5, 198, 4.5], [5.3, 212, 1], [5.5, 218, 1.5],
  [5.1, 226, 1], [5.0, 233, 1.5], [4.9, 238, 1],
];

// ---------- helpers ----------
function toPoints(rowSets: number[][][], extra: number[][]) {
  const pts: number[][] = [];
  for (const rows of rowSets) {
    for (const row of rows) {
      const dir = row[0];
      for (let i = 1; i + 1 < row.length; i += 2) pts.push([row[i], dir, row[i + 1]]);
    }
  }
  for (const p of extra) pts.push(p);
  return pts;
}

function spokePath(maxR: number) {
  const d: number[][] = [];
  for (const a of spokeAngles) {
    d.push([0, a]);
    d.push([maxR, a]);
  }
  return d;
}

const dotted = { color: "#7c7c7c", width: 1, type: [1.2, 1.8] as any };

function angleAxis(polarIndex: number) {
  return {
    polarIndex,
    type: "value",
    min: 0,
    max: 360,
    interval: 30,
    startAngle: 90,
    clockwise: true,
    z: 10,
    axisLine: { show: true, lineStyle: dotted },
    axisTick: { show: false },
    axisLabel: {
      show: true,
      margin: 9,
      color: "#000",
      fontFamily: '"Liberation Sans", Arial, sans-serif',
      fontSize: 18,
      formatter: (v: number) => (v >= 360 ? "" : compassNames[v] ?? String(v)),
    },
    splitLine: { show: true, lineStyle: dotted },
  };
}

function radiusAxis(polarIndex: number, rings: number[]) {
  return {
    polarIndex,
    type: "value",
    min: 0,
    max: rings[rings.length - 1],
    interval: rings[0],
    z: 10,
    axisLine: { show: false },
    axisTick: { show: false },
    axisLabel: { show: false },
    splitLine: { show: true, lineStyle: dotted },
  };
}

export default function App() {
  const ref = useRef<HTMLDivElement>(null);

  useEffect(() => {
    const el = ref.current;
    if (!el) return;
    const chart = echarts.init(el, null, { renderer: "svg" });

    const gradient = new echarts.graphic.LinearGradient(
      0, 0, 1, 0,
      parulaStops.map((c, i) => ({ offset: i / (parulaStops.length - 1), color: c }))
    );

    const scatterBase = {
      type: "scatter",
      coordinateSystem: "polar",
      symbol: "circle",
      symbolSize: 7.6,
      itemStyle: { opacity: 1 },
      silent: true,
      progressive: 0,
      z: 2,
    };
    const spokeBase = {
      type: "line",
      coordinateSystem: "polar",
      showSymbol: false,
      symbol: "none",
      silent: true,
      lineStyle: { color: "#000", width: 1.1 },
      z: 12,
    };

    chart.setOption({
      animation: false,
      polar: [
        { center: [211, 352.7], radius: 175 },
        { center: [697, 352.7], radius: 175.5 },
      ],
      angleAxis: [angleAxis(0), angleAxis(1)],
      radiusAxis: [radiusAxis(0, shelteredRings), radiusAxis(1, openRings)],
      grid: [
        {
          left: 271, top: 60, width: 348, height: 33, show: true,
          backgroundColor: gradient, borderColor: "#000", borderWidth: 1,
        },
      ],
      xAxis: [
        {
          gridIndex: 0, type: "value", position: "top",
          min: colorTicks[0], max: colorTicks[1], interval: colorTicks[2],
          axisLine: { show: false },
          axisTick: { show: true, inside: true, length: 5, lineStyle: { color: "#000" } },
          axisLabel: { margin: 13, color: "#000", fontFamily: '"DejaVu Serif", serif', fontSize: 15 },
          splitLine: { show: false },
        },
      ],
      yAxis: [{ gridIndex: 0, type: "value", min: 0, max: 1, show: false }],
      visualMap: {
        type: "continuous",
        show: false,
        min: 0,
        max: 10,
        dimension: 2,
        seriesIndex: [0, 1],
        inRange: { color: parulaStops },
      },
      series: [
        { ...scatterBase, polarIndex: 0, data: toPoints([shelteredRows, shelteredInnerFill], shelteredScatter) },
        { ...scatterBase, polarIndex: 1, data: toPoints([openRows, openInnerFill, openOuterFill], openScatter) },
        { ...spokeBase, polarIndex: 0, data: spokePath(shelteredRings[shelteredRings.length - 1]) },
        { ...spokeBase, polarIndex: 1, data: spokePath(openRings[openRings.length - 1]) },
      ],
    });

    const txt = (id: string, x: number, y: number, text: string, font: string, align = "left") => ({
      type: "text",
      id,
      x,
      y,
      z: 50,
      silent: true,
      style: {
        text,
        font,
        fill: "#000",
        align,
        textAlign: align,
        verticalAlign: "middle",
        textVerticalAlign: "middle",
      },
    });

    const serifR = '17px "DejaVu Serif", serif';
    const els: any[] = [
      txt("cbTitle", 445, 14, "CO2 (umol/m2/s)", '16.5px "DejaVu Serif", serif', "center"),
      txt("t1", 8, 126, "Sheltered Fen Windspeed and Nighttime NEE", 'bold 19.3px "Open Sans", sans-serif'),
      txt("t2", 503, 126, "Open Fen Windspeed and Nighttime NEE", 'bold 19.3px "Open Sans", sans-serif'),
      txt("la", 10, 160, "A", 'bold 15px "Open Sans", sans-serif'),
      txt("lb", 496, 160, "B", 'bold 15px "Open Sans", sans-serif'),
    ];
    shelteredRings.forEach((k, i) => {
      const p = chart.convertToPixel({ seriesIndex: 0 }, [k, radialLabelDir]) as number[];
      if (p) els.push(txt("rs" + i, p[0] + 1, p[1] - 15, shelteredRingLabels[i], serifR));
    });
    openRings.forEach((k, i) => {
      const p = chart.convertToPixel({ seriesIndex: 1 }, [k, radialLabelDir]) as number[];
      if (p) els.push(txt("ro" + i, p[0] + 1, p[1] - 15, openRingLabels[i], serifR));
    });
    chart.setOption({ graphic: els });

    return () => chart.dispose();
  }, []);

  return (
    <div
      ref={ref}
      style={{ position: "absolute", left: 0, top: 0, width: 957, height: 558, background: "#fff" }}
    />
  );
}
